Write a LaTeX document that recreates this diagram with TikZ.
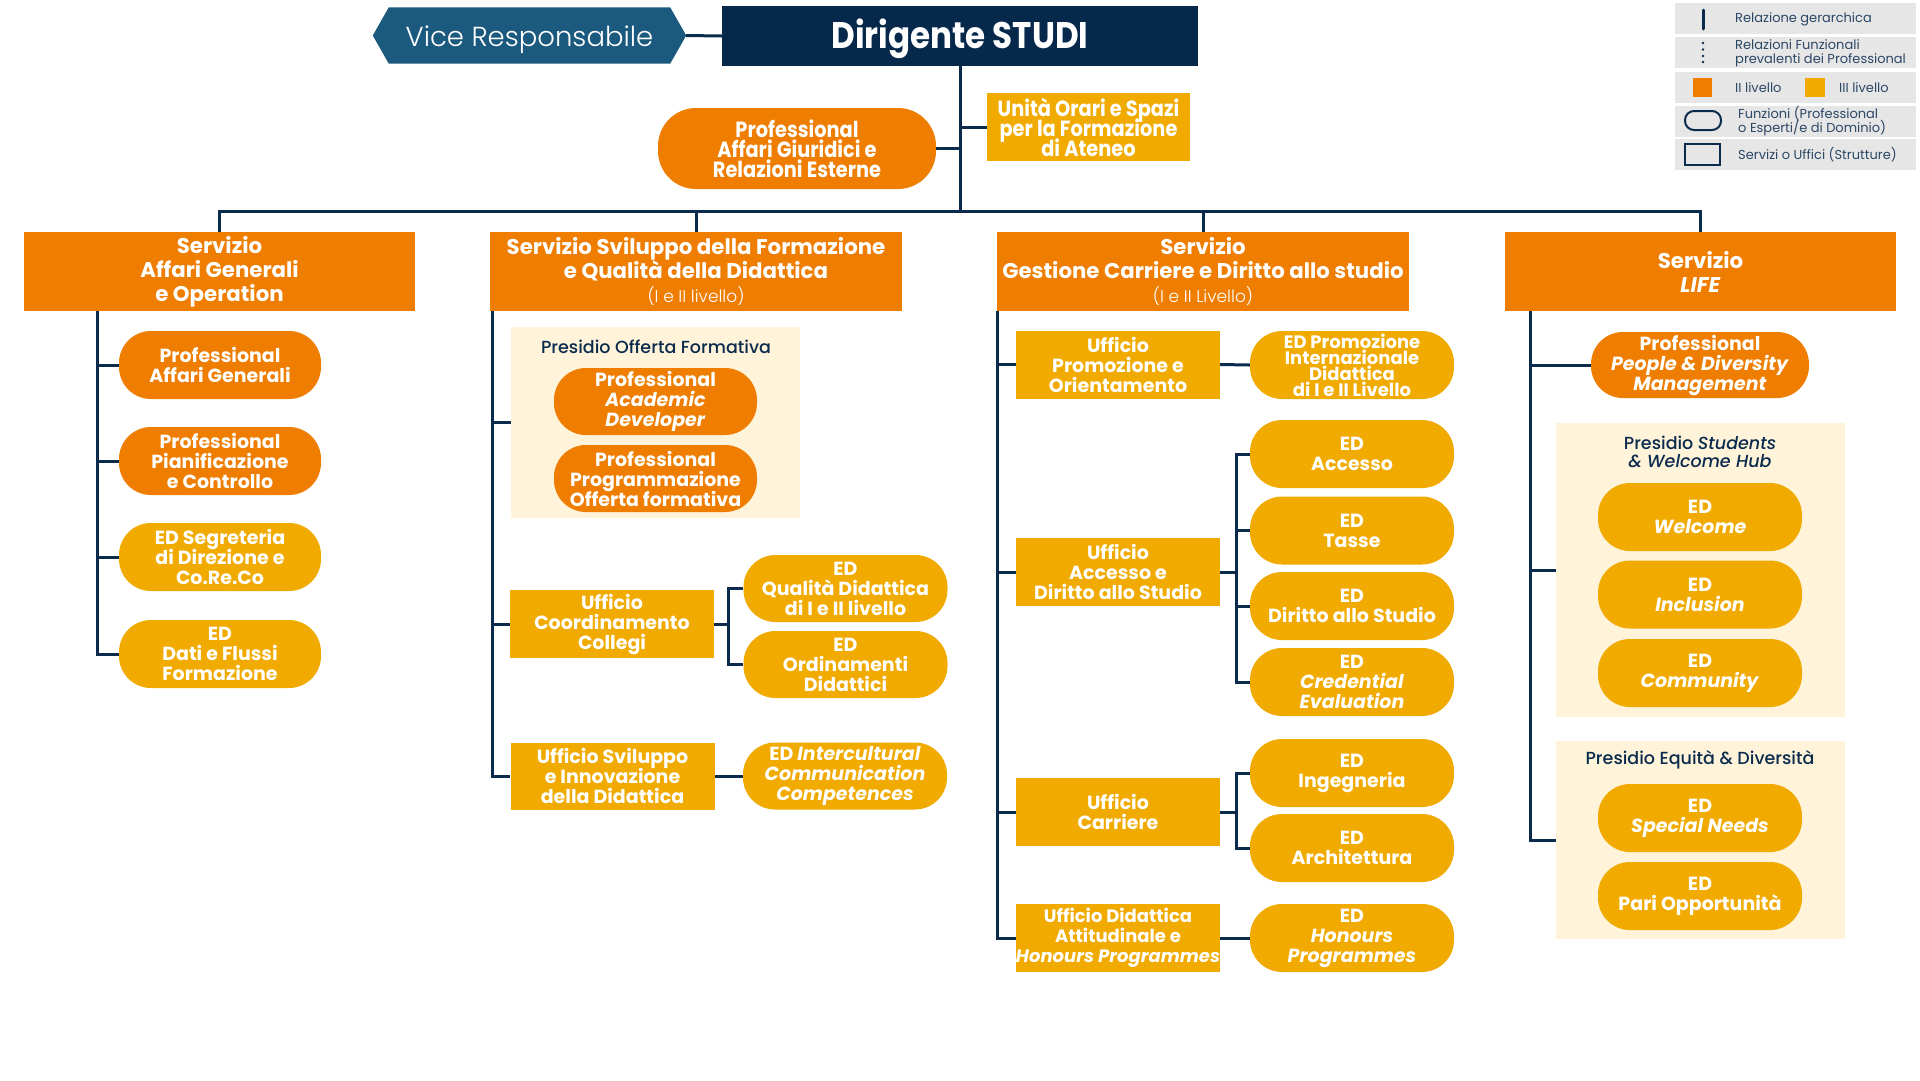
\documentclass[tikz,border=0pt]{standalone}
\usepackage{fontspec}
\setmainfont{Poppins}
\newfontfamily\lightfont{Poppins Light}
\newfontfamily\medfont{Poppins Medium}
\newfontfamily\condfont{Poppins}[FakeStretch=0.88]
\usetikzlibrary{calc,backgrounds}
\definecolor{orII}{HTML}{EE7D00}
\definecolor{yeIII}{HTML}{F1AA00}
\definecolor{navy}{HTML}{0B2B4D}
\definecolor{dircol}{HTML}{06284B}
\definecolor{vicecol}{HTML}{1B5A7E}
\definecolor{cream}{HTML}{FFF3DA}
\definecolor{leggray}{HTML}{E7E6E6}
\definecolor{legtext}{HTML}{2B4766}
\lineskiplimit=-100pt
\begin{document}
\begin{tikzpicture}[x=1pt,y=-1pt,
  conn/.style={draw=navy,line width=3pt},
  svc/.style={rectangle,fill=orII,text=white,inner sep=0pt,align=center,minimum height=79pt,font=\bfseries\fontsize{21.3}{24}\selectfont},
  uff/.style={rectangle,fill=yeIII,text=white,inner sep=0pt,align=center,minimum width=204pt,minimum height=68pt,font=\bfseries\fontsize{19}{20}\selectfont},
  pill/.style={rectangle,rounded corners=32pt,text=white,inner sep=0pt,align=center,minimum width=204pt,minimum height=68pt,font=\bfseries\fontsize{19}{20}\selectfont},
  pillO/.style={pill,fill=orII},
  pillY/.style={pill,fill=yeIII},
  panel/.style={rectangle,fill=cream,inner sep=0pt,minimum width=289pt},
  ptitle/.style={text=navy,inner sep=0pt,align=center,font=\medfont\fontsize{17.5}{18.5}\selectfont},
  legrow/.style={rectangle,fill=leggray,inner sep=0pt,minimum width=241pt,minimum height=31pt},
  legtxt/.style={text=legtext,inner sep=0pt,align=left,anchor=west,font=\fontsize{13}{14.5}\selectfont}
]
\useasboundingbox (0,0) rectangle (1920,1080);

% ---------- top ----------
\node[inner sep=0pt,minimum width=313pt,minimum height=56pt] (vice) at (529.5,35.5) {};
\node[inner sep=0pt,text=white,font=\lightfont\fontsize{27.5}{30}\selectfont] (viceT) at (529.5,40) {Vice Responsabile};
\node[rectangle,fill=dircol,inner sep=0pt,minimum width=476pt,minimum height=60pt,text height=31pt,text depth=7pt,text=white,font=\condfont\bfseries\fontsize{37}{40}\selectfont] (dir) at (960,36) {Dirigente STUDI};
\node[pillO,minimum width=278pt,minimum height=81pt,rounded corners=38pt,font=\condfont\bfseries\fontsize{22}{20}\selectfont] (pAG) at (797,148.5) {Professional\\Affari Giuridici e\\Relazioni Esterne};
\node[uff,minimum width=203pt,font=\condfont\bfseries\fontsize{22}{20}\selectfont] (uOS) at (1088.5,127) {Unità Orari e Spazi\\per la Formazione\\di Ateneo};

\begin{pgfonlayer}{background}
\fill[white] (0,0) rectangle (1920,1080);
\fill[vicecol] (vice.west) -- ([xshift=16pt]vice.north west) -- ([xshift=-16pt]vice.north east) -- (vice.east) -- ([xshift=-16pt]vice.south east) -- ([xshift=16pt]vice.south west) -- cycle;
\end{pgfonlayer}

% ---------- services ----------
\node[svc,minimum width=391pt] (s1) at (219.5,271.5) {Servizio\\Affari Generali\\e Operation};
\node[svc,minimum width=412pt] (s2) at (696,271.5) {Servizio Sviluppo della Formazione\\e Qualità della Didattica\\{\mdseries\lightfont\fontsize{17}{20}\selectfont (I e II livello)}};
\node[svc,minimum width=412pt] (s3) at (1203,271.5) {Servizio\\Gestione Carriere e Diritto allo studio\\{\mdseries\lightfont\fontsize{17}{20}\selectfont (I e II Livello)}};
\node[svc,minimum width=391pt] (s4) at (1700.5,271.5) {Servizio\\\textit{LIFE}};

% ---------- column 1 ----------
\node[pillO,minimum width=202pt] (c1a) at (220,365) {Professional\\Affari Generali};
\node[pillO,minimum width=202pt] (c1b) at (220,461) {Professional\\Pianificazione\\e Controllo};
\node[pillY,minimum width=202pt] (c1c) at (220,557) {ED Segreteria\\di Direzione e\\Co.Re.Co};
\node[pillY,minimum width=202pt] (c1d) at (220,654) {ED\\Dati e Flussi\\Formazione};

% ---------- column 2 ----------
\node[panel,minimum height=191pt] (pof) at (655.5,422.5) {};
\node[ptitle] (pofT) at (656,347) {Presidio Offerta Formativa};
\node[pillO,minimum width=203pt,minimum height=67pt] (c2a) at (655.5,401.5) {Professional\\\textit{Academic}\\\textit{Developer}};
\node[pillO,minimum width=203pt,minimum height=67pt] (c2b) at (655.5,478.5) {Professional\\Programmazione\\Offerta formativa};
\node[uff] (uCC) at (612,624) {Ufficio\\Coordinamento\\Collegi};
\node[pillY,minimum height=67pt] (eQD) at (845.5,588.5) {ED\\Qualità Didattica\\di I e II livello};
\node[pillY,minimum height=67pt] (eOD) at (845.5,664.5) {ED\\Ordinamenti\\Didattici};
\node[uff,minimum height=67pt] (uSI) at (612.5,776) {Ufficio Sviluppo\\e Innovazione\\della Didattica};
\node[pillY,minimum height=67pt] (eIC) at (845,776) {ED \textit{Intercultural}\\\textit{Communication}\\\textit{Competences}};

% ---------- column 3 ----------
\node[uff] (uPO) at (1118,364.5) {Ufficio\\Promozione e\\Orientamento};
\node[pillY,font=\bfseries\fontsize{18}{16}\selectfont] (ePI) at (1352,365) {ED Promozione\\Internazionale\\Didattica\\di I e II Livello};
\node[uff] (uAD) at (1118,572) {Ufficio\\Accesso e\\Diritto allo Studio};
\node[pillY] (eAc) at (1352,454) {ED\\Accesso};
\node[pillY] (eTa) at (1352,530.5) {ED\\Tasse};
\node[pillY] (eDS) at (1352,606) {ED\\Diritto allo Studio};
\node[pillY] (eCE) at (1352,682) {ED\\\textit{Credential}\\\textit{Evaluation}};
\node[uff] (uCa) at (1118,812) {Ufficio\\Carriere};
\node[pillY] (eIn) at (1352,773) {ED\\Ingegneria};
\node[pillY] (eAr) at (1352,848) {ED\\Architettura};
\node[uff,font=\bfseries\fontsize{18}{20}\selectfont] (uDA) at (1118,938) {Ufficio Didattica\\Attitudinale e\\\textit{Honours Programmes}};
\node[pillY] (eHo) at (1352,938) {ED\\\textit{Honours}\\\textit{Programmes}};

% ---------- column 4 ----------
\node[pillO,minimum width=218pt,minimum height=66pt] (pPD) at (1700,365) {Professional\\\textit{People \& Diversity}\\\textit{Management}};
\node[panel,minimum height=294pt] (psw) at (1700.5,570) {};
\node[ptitle] (pswT) at (1700,452) {Presidio \textit{Students}\\\textit{\& Welcome Hub}};
\node[pillY] (eWe) at (1700,517) {ED\\\textit{Welcome}};
\node[pillY] (eInc) at (1700,594.5) {ED\\\textit{Inclusion}};
\node[pillY] (eCo) at (1700,673) {ED\\\textit{Community}};
\node[panel,minimum height=198pt] (peq) at (1700.5,840) {};
\node[ptitle] (peqT) at (1700,760) {Presidio Equità \& Diversità};
\node[pillY] (eSN) at (1700,818) {ED\\\textit{Special Needs}};
\node[pillY] (ePO) at (1700,896) {ED\\Pari Opportunità};

% ---------- connectors ----------
\coordinate (bar) at (960,211);
\draw[conn] (vice.east) -- (dir.west);
\draw[conn] (dir.south) -- (bar);
\draw[conn] (pAG.east) -- (pAG.east -| bar);
\draw[conn] (uOS.west) -- (uOS.west -| bar);
\draw[conn] (s1.north) |- (bar) -| (s4.north);
\draw[conn] (s2.north) -- (s2.north |- bar);
\draw[conn] (s3.north) -- (s3.north |- bar);

\coordinate (c1top) at (97,311);
\draw[conn] (c1top) |- (c1d.west);
\foreach \n in {c1a,c1b,c1c} \draw[conn] (\n.west) -- (\n.west -| c1top);

\coordinate (c2top) at (492,311);
\draw[conn] (c2top) |- (uSI.west);
\draw[conn] (pof.west) -- (pof.west -| c2top);
\draw[conn] (uCC.west) -- (uCC.west -| c2top);
\coordinate (b2) at (728,624);
\draw[conn] (uCC.east) -- (b2);
\draw[conn] (eQD.west) -| (b2) |- (eOD.west);
\draw[conn] (uSI.east) -- (eIC.west);

\coordinate (c3top) at (997,311);
\draw[conn] (c3top) |- (uDA.west);
\foreach \n in {uPO,uAD,uCa} \draw[conn] (\n.west) -- (\n.west -| c3top);
\draw[conn] (uPO.east) -- (ePI.west);
\coordinate (b3a) at (1236,572);
\draw[conn] (uAD.east) -- (b3a);
\draw[conn] (eAc.west) -| (b3a) |- (eCE.west);
\foreach \n in {eTa,eDS} \draw[conn] (\n.west) -- (\n.west -| b3a);
\coordinate (b3b) at (1236,812);
\draw[conn] (uCa.east) -- (b3b);
\draw[conn] (eIn.west) -| (b3b) |- (eAr.west);
\draw[conn] (uDA.east) -- (eHo.west);

\coordinate (c4top) at (1530,311);
\draw[conn] (c4top) |- (peq.west);
\draw[conn] (pPD.west) -- (pPD.west -| c4top);
\draw[conn] (psw.west) -- (psw.west -| c4top);

% ---------- legend ----------
\node[legrow] (lg1) at (1795.5,18.5) {};
\node[legrow] (lg2) at (1795.5,52.5) {};
\node[legrow] (lg3) at (1795.5,87.5) {};
\node[legrow] (lg4) at (1795.5,121) {};
\node[legrow] (lg5) at (1795.5,154.5) {};
\draw[navy,line width=3pt,line cap=round] (1703,10) -- (1703,29);
\foreach \yy in {43,49.5,56,62} \fill[navy] (1703,\yy) circle (1.4pt);
\fill[orII] (1693,78) rectangle (1712,97);
\fill[yeIII] (1805,78) rectangle (1825,97);
\draw[navy,line width=2pt,rounded corners=9pt] (1685,111) rectangle (1721,130);
\draw[navy,line width=2pt] (1685,144) rectangle (1720,165);
\node[legtxt] (lt1) at (1735,19) {Relazione gerarchica};
\node[legtxt] (lt2) at (1735,53) {Relazioni Funzionali\\prevalenti dei Professional};
\node[legtxt] (lt3) at (1735,88) {II livello};
\node[legtxt] (lt3b) at (1839,88) {III livello};
\node[legtxt] (lt4) at (1738,121) {Funzioni (Professional\\o Esperti/e di Dominio)};
\node[legtxt] (lt5) at (1738,155) {Servizi o Uffici (Strutture)};
\end{tikzpicture}
\end{document}
